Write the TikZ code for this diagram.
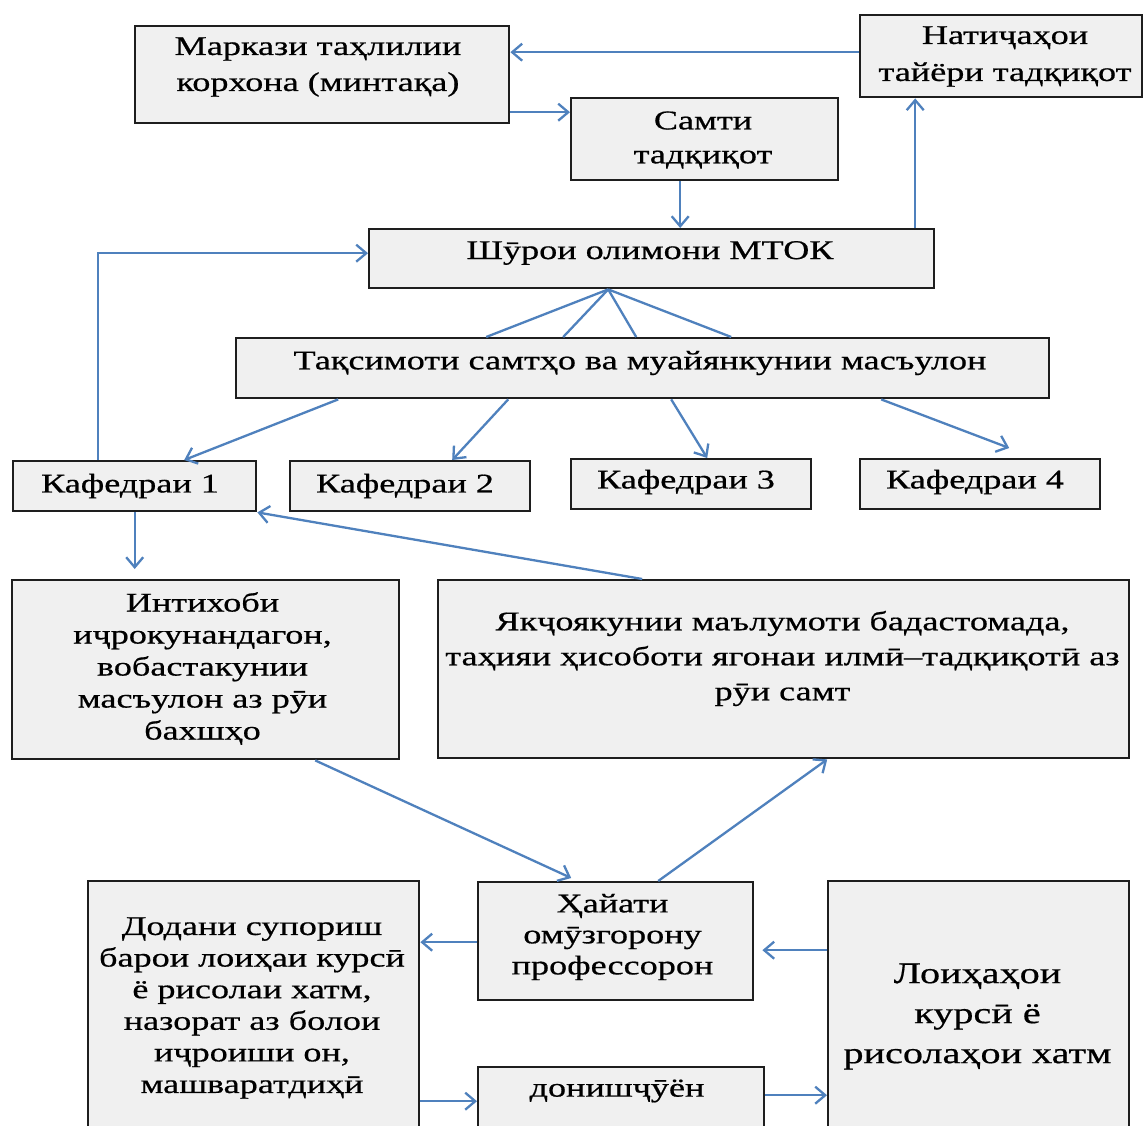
\documentclass[tikz,border=0pt]{standalone}
\usepackage{fontspec}
\setmainfont{Liberation Serif}[FakeStretch=1.34,FakeBold=0.6]
\usetikzlibrary{arrows.meta,calc}
\definecolor{arrblue}{HTML}{4F81BD}
\definecolor{boxfill}{HTML}{F0F0F0}
\definecolor{boxline}{HTML}{1E1E1E}
\begin{document}
\begin{tikzpicture}[x=1pt,y=-1pt,
  box/.style={draw=boxline,fill=boxfill,line width=2.4pt,rectangle,inner sep=0pt,anchor=north west},
  txt/.style={align=center,inner sep=0pt,font=\fontsize{27}{#1}\selectfont},
  txt/.default=33,
  txtbig/.style={align=center,inner sep=0pt,font=\fontsize{30}{40}\selectfont},
  arr/.style={draw=arrblue,line width=2.3pt,-{Straight Barb[length=10pt,width=17pt]}},
  ln/.style={draw=arrblue,line width=2.3pt}]
\useasboundingbox (0,0) rectangle (1144,1126);
\fill[white] (0,0) rectangle (1144,1126);

% boxes
\node[box,minimum width=374pt,minimum height=97pt] (A) at (134,25) {};
\node[box,minimum width=267pt,minimum height=82pt] (B) at (570,97) {};
\node[box,minimum width=282pt,minimum height=82pt] (C) at (859,14) {};
\node[box,minimum width=565pt,minimum height=59pt] (D) at (368,228) {};
\node[box,minimum width=813pt,minimum height=60pt] (E) at (235,337) {};
\node[box,minimum width=243pt,minimum height=50pt] (K1) at (12,460) {};
\node[box,minimum width=240pt,minimum height=50pt] (K2) at (289,460) {};
\node[box,minimum width=240pt,minimum height=50pt] (K3) at (570,458) {};
\node[box,minimum width=240pt,minimum height=50pt] (K4) at (859,458) {};
\node[box,minimum width=387pt,minimum height=179pt] (F) at (11,579) {};
\node[box,minimum width=691pt,minimum height=178pt] (G) at (437,579) {};
\node[box,minimum width=331pt,minimum height=260pt] (H) at (87,880) {};
\node[box,minimum width=275pt,minimum height=118pt] (I) at (477,881) {};
\node[box,minimum width=286pt,minimum height=74pt] (J) at (477,1066) {};
\node[box,minimum width=301pt,minimum height=260pt] (K) at (827,880) {};

% texts
\node[txt=36] (tA) at (318,67) {Маркази таҳлилии\\корхона (минтақа)};
\node[txt=34] (tB) at (703,140) {Самти\\тадқиқот};
\node[txt=37] (tC) at (1005,56.5) {Натиҷаҳои\\тайёри тадқиқот};
\node[txt] (tD) at (650,253) {Шӯрои олимони МТОК};
\node[txt] (tE) at (640,363) {Тақсимоти самтҳо ва муайянкунии масъулон};
\node[txt] (tK1) at (130,486) {Кафедраи 1};
\node[txt] (tK2) at (405,486) {Кафедраи 2};
\node[txt] (tK3) at (686,482) {Кафедраи 3};
\node[txt] (tK4) at (975,482) {Кафедраи 4};
\node[txt=32] (tF) at (202.5,668.5) {Интихоби\\иҷрокунандагон,\\вобастакунии\\масъулон аз рӯи\\бахшҳо};
\node[txt=35] (tG) at (782.5,658.5) {Якҷоякунии маълумоти бадастомада,\\таҳияи ҳисоботи ягонаи илмӣ–тадқиқотӣ аз\\рӯи самт};
\node[txt=31.6] (tH) at (252,1008) {Додани супориш\\барои лоиҳаи курсӣ\\ё рисолаи хатм,\\назорат аз болои\\иҷроиши он,\\машваратдиҳӣ};
\node[txt=31] (tI) at (612.5,937) {Ҳайати\\омӯзгорону\\профессорон};
\node[txt] (tJ) at (617,1091) {донишҷӯён};
\node[txtbig] (tK) at (977.5,1016.5) {Лоиҳаҳои\\курсӣ ё\\рисолаҳои хатм};

% connectors
\draw[arr] ([yshift=4pt]C.west) -- ([yshift=22.5pt]A.east);
\draw[arr] ([yshift=-37.5pt]A.east) -- ([yshift=27pt]B.west);
\draw[arr] ([xshift=-24.5pt]B.south) -- ([xshift=28.5pt]D.north);
\draw[arr] ([xshift=263.5pt]D.north) -- ([xshift=-86pt]C.south);
\draw[arr] ([xshift=-36.5pt]K1.north) |- ([yshift=5.5pt]D.west);
\foreach \t in {-156.5,-79.5,-6.5,88.5}
  \draw[ln] ([xshift=-43.5pt]D.south) -- ([xshift=\t pt]E.north);
\draw[arr] ([xshift=-304.5pt]E.south) -- ([xshift=49.5pt]K1.north);
\draw[arr] ([xshift=-134.5pt]E.south) -- ([xshift=42pt]K2.north);
\draw[arr] ([xshift=28.5pt]E.south) -- ([xshift=16pt]K3.north);
\draw[arr] ([xshift=238.5pt]E.south) -- ([xshift=29pt,yshift=10pt]K4.north);
\draw[arr,shorten >=10pt] (K1.south) -- (K1.south |- F.north);
\draw[arr] ([xshift=-141.5pt]G.north) -- (K1.south east);
\draw[arr] ([xshift=109.5pt]F.south) -- ([xshift=-44.5pt,yshift=3pt]I.north);
\draw[arr] ([xshift=42.5pt]I.north) -- ([xshift=43.5pt]G.south);
\draw[arr] ([yshift=-1pt]I.west) -- ([yshift=69pt]H.east);
\draw[arr,shorten >=8pt] ([yshift=61pt]K.west) -- ([yshift=-9pt]I.east);
\draw[arr] ([yshift=-90pt]H.east) -- ([yshift=3pt]J.west);
\draw[arr] ([yshift=9pt]J.east) -- ([yshift=-84pt]K.west);
\end{tikzpicture}
\end{document}
